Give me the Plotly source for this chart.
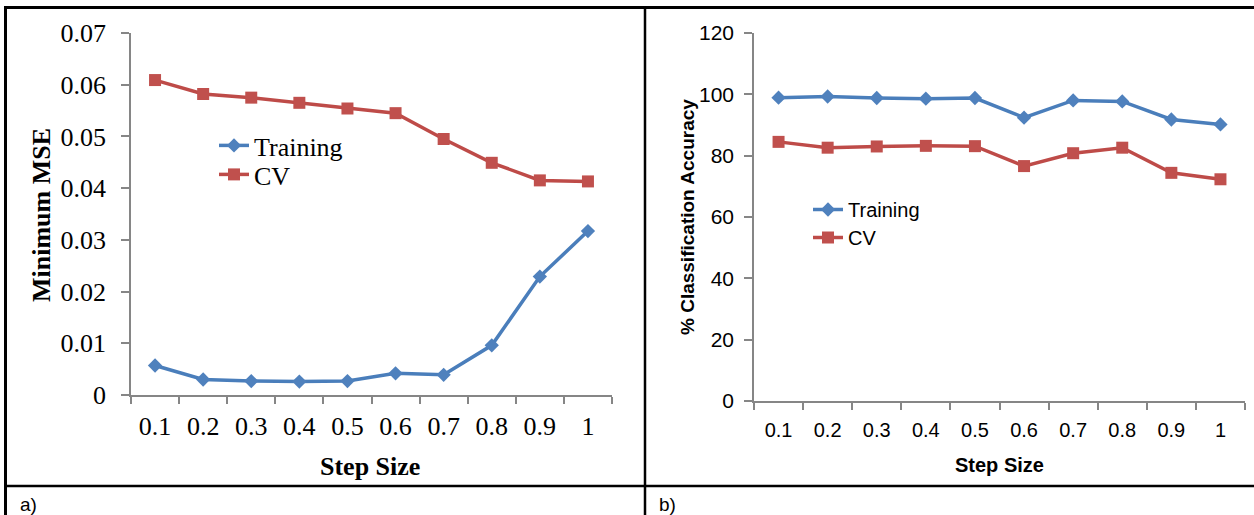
import plotly.graph_objects as go

W, H = 1254, 515

step_sizes = ["0.1", "0.2", "0.3", "0.4", "0.5", "0.6", "0.7", "0.8", "0.9", "1"]

# Panel a) Minimum MSE
mse_training = [0.0057, 0.0030, 0.0027, 0.0026, 0.0027, 0.0042, 0.0039, 0.0096, 0.0229, 0.0317]
mse_cv = [0.0609, 0.0582, 0.0575, 0.0565, 0.0554, 0.0545, 0.0495, 0.0449, 0.0415, 0.0413]
mse_tickvals = [0, 0.01, 0.02, 0.03, 0.04, 0.05, 0.06, 0.07]
mse_ticktext = ["0", "0.01", "0.02", "0.03", "0.04", "0.05", "0.06", "0.07"]

# Panel b) % Classification Accuracy
acc_training = [98.9, 99.3, 98.8, 98.6, 98.8, 92.4, 98.0, 97.7, 91.8, 90.2]
acc_cv = [84.5, 82.6, 83.0, 83.2, 83.1, 76.6, 80.8, 82.6, 74.4, 72.3]
acc_tickvals = [0, 20, 40, 60, 80, 100, 120]
acc_ticktext = ["0", "20", "40", "60", "80", "100", "120"]

BLUE = "#4A7EBB"
BLUE_M = "#4F81BD"
RED = "#BE4B48"
RED_M = "#C0504D"
AXIS = "#868686"
SERIF = "Liberation Serif, Times New Roman, serif"
SANS = "Liberation Sans Narrow, Arial Narrow, Liberation Sans, Arial, sans-serif"
SANS_W = "Liberation Sans, Arial, sans-serif"


def px(x):
    return x / W


def py(y):
    return 1 - y / H


def line_style(color):
    return dict(color=color, width=3.5)


fig = go.Figure()

fig.add_trace(go.Scatter(x=step_sizes, y=mse_training, name="Training", mode="lines+markers",
                         line=line_style(BLUE),
                         marker=dict(symbol="diamond", size=11, color=BLUE_M),
                         xaxis="x", yaxis="y", legend="legend"))
fig.add_trace(go.Scatter(x=step_sizes, y=mse_cv, name="CV", mode="lines+markers",
                         line=line_style(RED),
                         marker=dict(symbol="square", size=12, color=RED_M),
                         xaxis="x", yaxis="y", legend="legend3"))
fig.add_trace(go.Scatter(x=step_sizes, y=acc_training, name="Training", mode="lines+markers",
                         line=line_style(BLUE),
                         marker=dict(symbol="diamond", size=11, color=BLUE_M),
                         xaxis="x2", yaxis="y2", legend="legend2"))
fig.add_trace(go.Scatter(x=step_sizes, y=acc_cv, name="CV", mode="lines+markers",
                         line=line_style(RED),
                         marker=dict(symbol="square", size=12, color=RED_M),
                         xaxis="x2", yaxis="y2", legend="legend4"))

common_x = dict(type="category", tickson="boundaries", showline=True, linecolor=AXIS, linewidth=1.5,
                ticks="outside", ticklen=7, tickcolor=AXIS, tickwidth=1.5, showgrid=False,
                zeroline=False, range=[-0.5, 9.5], fixedrange=True, automargin=False)
common_y = dict(showline=True, linecolor=AXIS, linewidth=1.5, ticks="outside", ticklen=8,
                tickcolor=AXIS, tickwidth=1.5, showgrid=False, zeroline=False, fixedrange=True,
                automargin=False)


def legend_at(x, y, family, size):
    return dict(x=px(x), y=py(y), xanchor="left", yanchor="top", bgcolor="rgba(0,0,0,0)",
                font=dict(family=family, size=size, color="black"), tracegroupgap=0,
                itemwidth=30, borderwidth=0)


fig.update_layout(
    width=W, height=H, autosize=False,
    margin=dict(l=0, r=0, t=0, b=0, pad=0),
    paper_bgcolor="white", plot_bgcolor="white",
    xaxis=dict(common_x, domain=[px(131), px(612)], anchor="y",
               tickfont=dict(family=SERIF, size=26, color="black"), ticklabelstandoff=7),
    yaxis=dict(common_y, domain=[py(395), py(33)], anchor="x", range=[0, 0.07],
               tickvals=mse_tickvals, ticktext=mse_ticktext,
               tickfont=dict(family=SERIF, size=26, color="black"), ticklabelstandoff=10),
    xaxis2=dict(common_x, domain=[px(754), px(1245)], anchor="y2",
                tickfont=dict(family=SANS, size=20, color="black"), ticklabelstandoff=10),
    yaxis2=dict(common_y, domain=[py(401), py(33)], anchor="x2", range=[0, 120],
                tickvals=acc_tickvals, ticktext=acc_ticktext,
                tickfont=dict(family=SANS, size=21, color="black"), ticklabelstandoff=6),
    legend=legend_at(214, 122, SERIF, 26),
    legend3=legend_at(214, 151, SERIF, 26),
    legend2=legend_at(808, 190, SANS, 20),
    legend4=legend_at(808, 218, SANS, 20),
    showlegend=True,
)

annotations = [
    dict(text="<b>Minimum MSE</b>", x=px(41), y=py(215), textangle=-90,
         font=dict(family=SERIF, size=26, color="black")),
    dict(text="<b>Step Size</b>", x=px(370), y=py(466),
         font=dict(family=SERIF, size=26, color="black")),
    dict(text="<b>% Classification Accuracy</b>", x=px(687), y=py(217), textangle=-90,
         font=dict(family=SANS_W, size=19, color="black")),
    dict(text="<b>Step Size</b>", x=px(999), y=py(465),
         font=dict(family=SANS, size=20, color="black")),
    dict(text="a)", x=px(28), y=py(504), font=dict(family=SANS, size=19, color="black")),
    dict(text="b)", x=px(667), y=py(504), font=dict(family=SANS, size=19, color="black")),
]
for a in annotations:
    a.update(xref="paper", yref="paper", showarrow=False, xanchor="center", yanchor="middle")
fig.update_layout(annotations=annotations)

border = dict(color="black", width=3)
shapes = [
    dict(type="line", x0=px(4), x1=1, y0=py(7.5), y1=py(7.5), line=border),
    dict(type="line", x0=px(5.5), x1=px(5.5), y0=py(6), y1=0, line=border),
    dict(type="line", x0=px(645), x1=px(645), y0=py(6), y1=0, line=dict(color="black", width=2.5)),
    dict(type="line", x0=px(4), x1=1, y0=py(486), y1=py(486), line=dict(color="black", width=2.5)),
]
for s in shapes:
    s.update(xref="paper", yref="paper")
fig.update_layout(shapes=shapes)

fig.write_html("out.html", config={"displayModeBar": False},
               post_script="document.body.style.margin='0';document.body.style.overflow='hidden';")
